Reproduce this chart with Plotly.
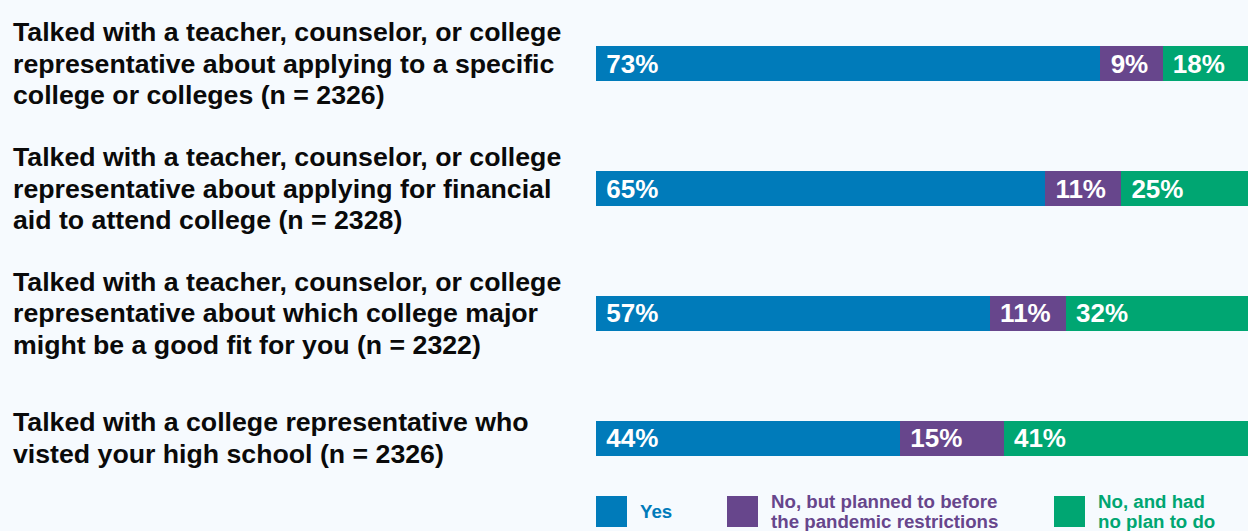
import plotly.graph_objects as go

categories = [
    "Talked with a teacher, counselor, or college<br>representative about applying to a specific<br>college or colleges (n = 2326)",
    "Talked with a teacher, counselor, or college<br>representative about applying for financial<br>aid to attend college (n = 2328)",
    "Talked with a teacher, counselor, or college<br>representative about which college major<br>might be a good fit for you (n = 2322)",
    "Talked with a college representative who<br>visted your high school (n = 2326)",
]
yes_vals = [73, 65, 57, 44]
planned_vals = [9, 11, 11, 15]
noplan_vals = [18, 25, 32, 41]

series_names = ["Yes", "No, but planned to before<br>the pandemic restrictions", "No, and had<br>no plan to do"]
colors = ["#007BBA", "#67468C", "#00A672"]
BG = "#F6FAFE"
FONT = "Liberation Sans, Arial, sans-serif"

W, H = 1248, 531
ROW_PX = 124.8
TOP_PX = 63.8

fig = go.Figure()
idx = list(range(len(categories)))
for vals, name, col in zip([yes_vals, planned_vals, noplan_vals], series_names, colors):
    fig.add_trace(go.Bar(
        y=idx, x=vals, orientation="h", name=name,
        marker=dict(color=col, line=dict(width=0)),
        width=35 / ROW_PX,
        text=[f" {v}%" for v in vals],
        textposition="inside", insidetextanchor="start",
        textfont=dict(color="white", size=26, family=FONT),
        texttemplate="<b>%{text}</b>",
        constraintext="none",
        showlegend=False,
        hoverinfo="skip",
    ))

# category labels on the left (one annotation per line for tight line spacing)
LINE = 31.5
for i, c in enumerate(categories):
    lines = c.split("<br>")
    n = len(lines)
    for k, ln in enumerate(lines):
        fig.add_annotation(
            x=0.0085, xref="paper", y=i, yref="y",
            yshift=((n - 1) / 2 - k) * LINE,
            text=f"<b>{ln}</b>", showarrow=False,
            xanchor="left", yanchor="middle", align="left",
            font=dict(size=26.7, color="#0A0A0A", family=FONT),
        )

# legend (drawn manually)
leg_x = [596, 727, 1054]
for lx, name, col in zip(leg_x, series_names, colors):
    fig.add_shape(type="rect", xref="paper", yref="paper",
                  x0=lx / W, x1=(lx + 31) / W, y0=1 - 527 / H, y1=1 - 496 / H,
                  fillcolor=col, line=dict(width=0))
    lines = name.split("<br>")
    n = len(lines)
    for k, ln in enumerate(lines):
        fig.add_annotation(
            x=(lx + 42) / W, xref="paper", y=1 - 511.5 / H, yref="paper",
            yshift=((n - 1) / 2 - k) * 20.5,
            text=f"<b>{ln}</b>", showarrow=False,
            xanchor="left", yanchor="middle", align="left",
            font=dict(size=18.7, color=col, family=FONT),
        )

fig.update_layout(
    barmode="stack",
    width=W, height=H,
    margin=dict(l=0, r=0, t=0, b=0),
    paper_bgcolor=BG, plot_bgcolor=BG,
    uniformtext=dict(mode=False),
    xaxis=dict(domain=[596 / W, 1], range=[0, 652 / 6.91], visible=False, fixedrange=True),
    yaxis=dict(range=[3 + (H - (TOP_PX + 3 * ROW_PX)) / ROW_PX, -TOP_PX / ROW_PX],
               visible=False, fixedrange=True),
    font=dict(family=FONT),
)

fig.write_html("out.html")
